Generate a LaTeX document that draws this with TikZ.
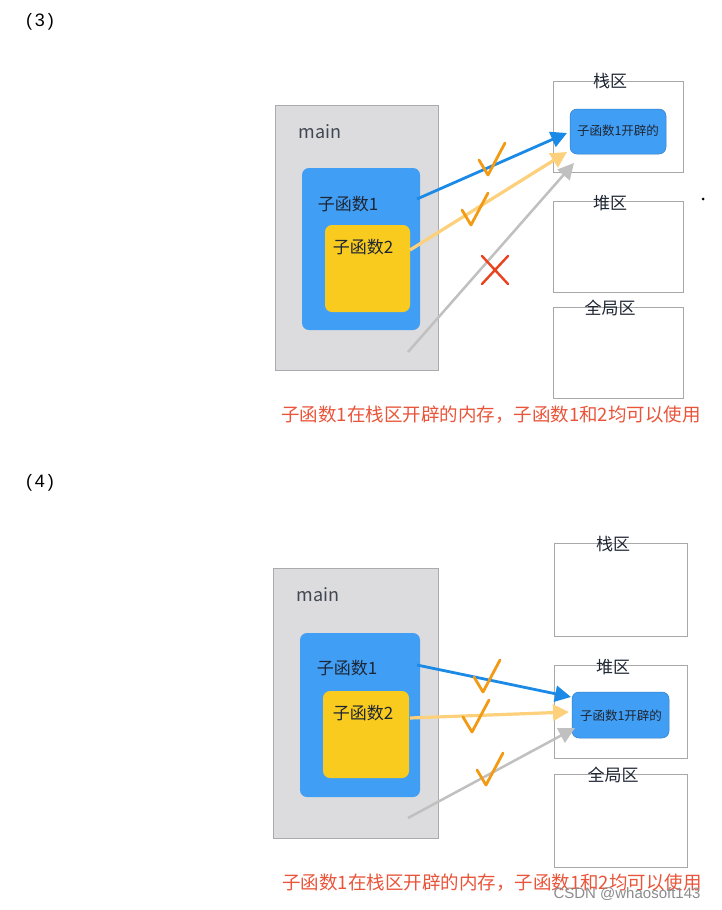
\documentclass[tikz,border=0pt]{standalone}
\usepackage{fontspec}
\setmainfont{Noto Sans CJK SC}
\newfontfamily\latinfont{Liberation Sans}
\usetikzlibrary{arrows.meta,calc}

\definecolor{boxgray}{HTML}{DCDCDE}
\definecolor{boxgrayline}{HTML}{ABABAD}
\definecolor{fnblue}{HTML}{419EF5}
\definecolor{fnyellow}{HTML}{F9CB1E}
\definecolor{arrblue}{HTML}{1A8AE6}
\definecolor{arryellow}{HTML}{FDD07C}
\definecolor{arrgray}{HTML}{C0C0C0}
\definecolor{checkorange}{HTML}{F29A14}
\definecolor{crossred}{HTML}{E9421E}
\definecolor{captionred}{HTML}{E9553A}
\definecolor{regionline}{HTML}{A8A8A8}
\definecolor{darktext}{HTML}{1E2633}

\begin{document}
\begin{tikzpicture}[x=1pt,y=-1pt,
  mainbox/.style={draw=boxgrayline,fill=boxgray,line width=0.8pt,anchor=north west,inner sep=0pt,outer sep=0pt},
  fnbox/.style={fill=fnblue,rounded corners=7pt,anchor=north west,inner sep=0pt,outer sep=0pt},
  subbox/.style={fill=fnyellow,rounded corners=7pt,anchor=north west,inner sep=0pt,outer sep=0pt},
  region/.style={draw=regionline,fill=white,line width=0.8pt,anchor=north west,inner sep=0pt,outer sep=0pt},
  memnode/.style={fill=fnblue,draw=fnblue!80!black,line width=0.5pt,rounded corners=7pt,anchor=north west,inner sep=0pt,outer sep=0pt},
  lbl/.style={inner sep=0pt,text=darktext,font=\fontsize{17}{20}\selectfont},
  mainlbl/.style={inner sep=0pt,text=darktext!85,font=\fontsize{18}{20}\selectfont},
  regionlbl/.style={inner sep=0pt,text=darktext,font=\fontsize{17}{20}\selectfont},
  memlbl/.style={inner sep=0pt,text=darktext,font=\fontsize{12.5}{14}\selectfont},
  caption/.style={inner sep=0pt,text=captionred,font=\fontsize{18.5}{21}\selectfont},
  numlbl/.style={inner sep=0pt,text=black,font=\latinfont\fontsize{18}{20}\selectfont},
  arr/.style={-{Triangle[length=16pt,width=16pt]}},
  blueline/.style={arr,draw=arrblue,fill=arrblue,line width=2.8pt},
  yellowline/.style={arr,draw=arryellow,fill=arryellow,line width=3.2pt},
  grayline/.style={arr,draw=arrgray,fill=arrgray,line width=2.5pt},
  check/.pic={\draw[checkorange,line width=2.8pt,line cap=round,line join=round] (-9,-15) -- (0,0) -- (17,-32);},
  cross/.pic={\draw[crossred,line width=2.4pt,line cap=round] (-13,-14) -- (13,14) (13,-14) -- (-13,14);}
]
\useasboundingbox (0,0) rectangle (722,910);
\fill[white] (0,0) rectangle (722,910);

% ---------------- (3) ----------------
\node[numlbl] (n3) at (40,22) {(\,3\,)};
\node[mainbox,minimum width=163pt,minimum height=265pt] (main3) at (275,105) {};
\node[fnbox,minimum width=118pt,minimum height=162pt] (fa3) at (302,168) {};
\node[subbox,minimum width=85pt,minimum height=87pt] (fb3) at (325,225) {};
\node[mainlbl] (mainl3) at (320,132) {main};
\node[lbl] (fal3) at (348,204) {子函数1};
\node[lbl] (fbl3) at (363,247) {子函数2};

\node[region,minimum width=130pt,minimum height=91pt] (stack3) at (553,81) {};
\node[region,minimum width=130pt,minimum height=91pt] (heap3) at (553,201) {};
\node[region,minimum width=130pt,minimum height=91pt] (glob3) at (553,307) {};
\node[regionlbl] (stackl3) at (610,81) {栈区};
\node[regionlbl] (heapl3) at (610,203) {堆区};
\node[regionlbl] (globl3) at (610,308) {全局区};
\node[memnode,minimum width=96pt,minimum height=45pt] (mem3) at (570,109) {};
\node[memlbl] (meml3) at (618,131) {子函数1开辟的};
\fill[black] (703,199) circle (1.5pt);
\node[caption] (cap3) at (491,415) {子函数1在栈区开辟的内存，子函数1和2均可以使用};

\coordinate (s3a) at (417,199);
\coordinate (s3b) at (410,250);
\coordinate (s3c) at (408,352);
\coordinate (t3a) at (567,133);
\coordinate (t3b) at (567,152);
\coordinate (t3c) at (574,163);
\draw[grayline] (s3c) -- (t3c);
\draw[yellowline] (s3b) -- (t3b);
\draw[blueline] (s3a) -- (t3a);
\pic at (488,175) {check};
\pic at (471,225) {check};
\pic at (495,270) {cross};

% ---------------- (4) ----------------
\node[numlbl] (n4) at (40,483) {(\,4\,)};
\node[mainbox,minimum width=165pt,minimum height=270pt] (main4) at (273,568) {};
\node[fnbox,minimum width=120pt,minimum height=164pt] (fa4) at (300,633) {};
\node[subbox,minimum width=86pt,minimum height=87pt] (fb4) at (323,691) {};
\node[mainlbl] (mainl4) at (318,595) {main};
\node[lbl] (fal4) at (347,668) {子函数1};
\node[lbl] (fbl4) at (363,713) {子函数2};

\node[region,minimum width=133pt,minimum height=93pt] (stack4) at (554,543) {};
\node[region,minimum width=133pt,minimum height=93pt] (heap4) at (554,665) {};
\node[region,minimum width=133pt,minimum height=93pt] (glob4) at (554,774) {};
\node[regionlbl] (stackl4) at (613,544) {栈区};
\node[regionlbl] (heapl4) at (613,667) {堆区};
\node[regionlbl] (globl4) at (613,775) {全局区};
\node[memnode,minimum width=97pt,minimum height=46pt] (mem4) at (572,692) {};
\node[memlbl] (meml4) at (621,716) {子函数1开辟的};
\node[caption] (cap4) at (492,883) {子函数1在栈区开辟的内存，子函数1和2均可以使用};

\coordinate (s4a) at (417,665);
\coordinate (s4b) at (410,718);
\coordinate (s4c) at (408,818);
\coordinate (t4a) at (571,697);
\coordinate (t4b) at (569,712);
\coordinate (t4c) at (575,728);
\draw[grayline] (s4c) -- (t4c);
\draw[yellowline] (s4b) -- (t4b);
\draw[blueline] (s4a) -- (t4a);
\pic at (483,692) {check};
\pic at (472,732) {check};
\pic at (486,785) {check};

\node[inner sep=0pt,text=gray!90,font=\latinfont\fontsize{15}{17}\selectfont] (wm) at (627,894) {CSDN @whaosoft143};
\end{tikzpicture}
\end{document}
